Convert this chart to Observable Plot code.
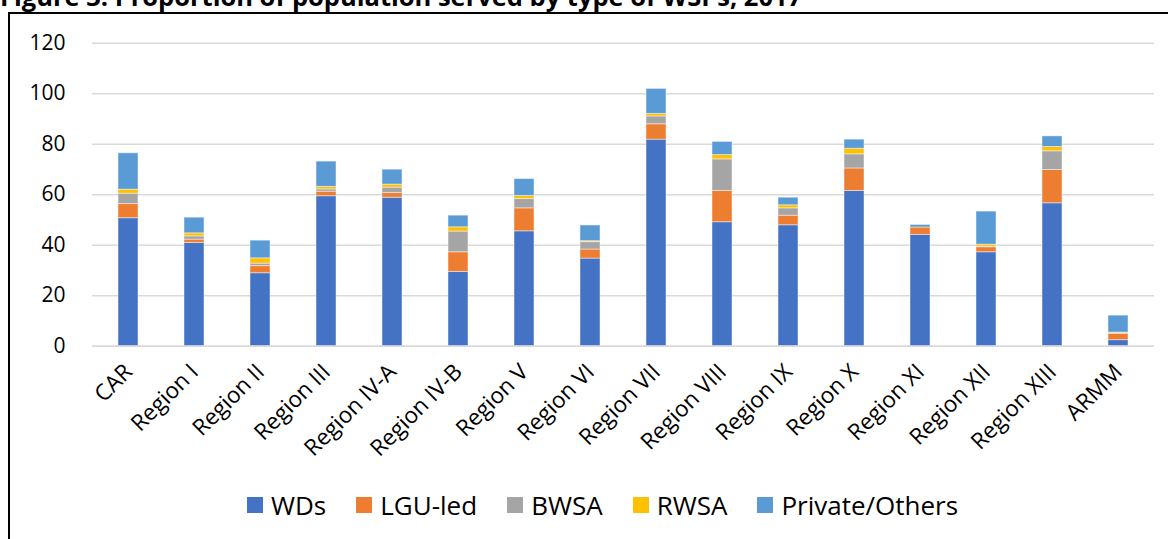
<!DOCTYPE html>
<html>
<head>
<meta charset="utf-8">
<script src="https://cdn.jsdelivr.net/npm/d3@7"></script>
<script src="https://cdn.jsdelivr.net/npm/@observablehq/plot@0.6"></script>
<style>
  html, body { margin: 0; padding: 0; background: #fff; }
  #wrap { position: relative; width: 1168px; height: 539px; overflow: hidden; background: #fff; font-family: "Open Sans", sans-serif; }
  #title { position: absolute; left: 0; top: -17px; font-size: 25.5px; line-height: 26px; font-weight: bold; color: #000; white-space: nowrap; }
  #frame { position: absolute; left: 8px; top: 12px; width: 1200px; height: 600px; border-left: 2px solid #000; border-top: 2px solid #000; }
  #chart { position: absolute; left: 0; top: 0; }
  #legend { position: absolute; left: 247px; top: 487px; display: flex; align-items: center; gap: 30px; font-size: 26px; color: #000; }
  #legend .item { display: flex; align-items: center; gap: 8px; }
  #legend .sw { width: 16px; height: 16px; display: inline-block; }
</style>
</head>
<body>
<div id="wrap">
  <div id="title">Figure 3. Proportion of population served by type of WSPs, 2017</div>
  <div id="frame"></div>
  <div id="chart"></div>
  <div id="legend"></div>
</div>
<script>
const regions = ["CAR","Region I","Region II","Region III","Region IV-A","Region IV-B","Region V","Region VI","Region VII","Region VIII","Region IX","Region X","Region XI","Region XII","Region XIII","ARMM"];
const types = ["WDs","LGU-led","BWSA","RWSA","Private/Others"];
const colors = ["#4472C4","#ED7D31","#A5A5A5","#FFC000","#5B9BD5"];
const wds     = [50.7,40.9,28.9,59.4,58.8,29.4,45.5,34.7,81.8,49.1,47.9,61.5,44.1,37.2,56.6,2.4];
const lguLed  = [5.6,1.3,2.8,1.8,1.9,7.8,9.1,3.6,6.1,12.4,3.8,8.9,2.9,2.0,13.2,2.5];
const bwsa    = [4.1,1.3,1.0,0.9,2.1,8.2,3.7,2.9,3.1,12.5,2.9,5.6,0,0.2,7.4,0.3];
const rwsa    = [1.6,1.2,2.1,1.0,1.2,1.7,1.2,0.4,1.0,1.7,1.2,2.2,0,0.8,1.7,0.2];
const privateOthers = [14.4,6.2,7.0,10.0,5.9,4.6,6.7,6.2,9.9,5.2,3.0,3.6,1.0,13.1,4.2,6.7];
const yTicks = [0,20,40,60,80,100,120];

const series = [wds, lguLed, bwsa, rwsa, privateOthers];
const rows = [];
regions.forEach((r, i) => {
  types.forEach((t, j) => rows.push({region: r, type: t, value: series[j][i]}));
});

const chart = Plot.plot({
  width: 1168,
  height: 460,
  marginLeft: 92,
  marginRight: 14,
  marginTop: 42.7,
  marginBottom: 114.3,
  style: {fontFamily: "Open Sans, sans-serif", color: "#000", background: "transparent", overflow: "visible"},
  x: {domain: regions, paddingInner: 0.69, paddingOuter: 0.345, label: null},
  y: {domain: [0, 120], label: null},
  color: {domain: types, range: colors},
  marks: [
    Plot.gridY(yTicks, {stroke: "#d9d9d9", strokeOpacity: 1, strokeWidth: 1.4}),
    Plot.barY(rows, {x: "region", y: "value", fill: "type", order: types, stroke: "#ffffff", strokeOpacity: 0.45, strokeWidth: 1}),
    Plot.ruleY([0], {stroke: "#d9d9d9", strokeWidth: 1.4}),
    Plot.axisY({ticks: yTicks, tickSize: 0, tickPadding: 27, fontSize: 21, label: null}),
    Plot.axisX({tickSize: 0, tickRotate: -45, tickPadding: 22, dx: 0, fontSize: 22.5, label: null})
  ]
});
document.getElementById("chart").appendChild(chart);

const legend = document.getElementById("legend");
types.forEach((t, j) => {
  const item = document.createElement("div");
  item.className = "item";
  const sw = document.createElement("span");
  sw.className = "sw";
  sw.style.background = colors[j];
  const lab = document.createElement("span");
  lab.textContent = t;
  item.appendChild(sw);
  item.appendChild(lab);
  legend.appendChild(item);
});
</script>
</body>
</html>
